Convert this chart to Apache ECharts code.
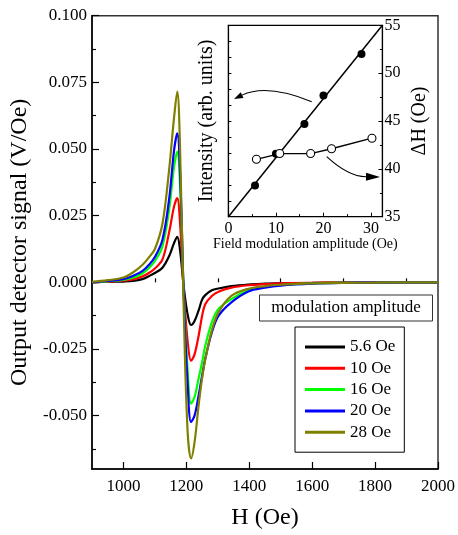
<!DOCTYPE html>
<html>
<head>
<meta charset="utf-8">
<script src="https://cdn.jsdelivr.net/npm/echarts@6/dist/echarts.min.js"></script>
<style>
  html, body { margin: 0; padding: 0; background: #fff; }
  #chart { width: 458px; height: 535px; }
</style>
</head>
<body>
<div id="chart"></div>
<script>
// FMR derivative signal vs applied field, for several modulation amplitudes
const fieldH = [900, 950, 1000, 1030, 1060, 1082, 1100, 1124, 1145, 1161, 1171, 1180, 1192, 1204, 1215, 1226, 1239, 1250, 1260, 1281, 1302, 1343, 1397, 1450, 1500, 1600, 1700, 1800, 1900, 2000];
const sig5_6 = [0.0000, 0.0002, 0.0003, 0.0005, 0.0012, 0.0024, 0.0035, 0.0055, 0.0098, 0.0148, 0.0171, 0.0120, -0.0020, -0.0120, -0.0160, -0.0145, -0.0105, -0.0065, -0.0048, -0.0030, -0.0023, -0.0014, -0.0008, -0.0005, -0.0003, -0.0002, -0.0001, -0.0001, 0.0000, 0.0000];
const sig10 = [0.0000, 0.0003, 0.0006, 0.0011, 0.0022, 0.0036, 0.0052, 0.0086, 0.0187, 0.0285, 0.0316, 0.0220, -0.0040, -0.0220, -0.0294, -0.0270, -0.0200, -0.0126, -0.0082, -0.0051, -0.0035, -0.0020, -0.0011, -0.0007, -0.0004, -0.0002, -0.0001, -0.0001, 0.0000, 0.0000];
const sig16 = [0.0000, 0.0004, 0.0009, 0.0017, 0.0033, 0.0055, 0.0080, 0.0135, 0.0272, 0.0434, 0.0490, 0.0360, -0.0050, -0.0330, -0.0455, -0.0430, -0.0360, -0.0300, -0.0238, -0.0150, -0.0100, -0.0063, -0.0030, -0.0017, -0.0010, -0.0004, -0.0002, -0.0001, 0.0000, 0.0000];
const sig20 = [0.0000, 0.0005, 0.0012, 0.0024, 0.0042, 0.0067, 0.0095, 0.0160, 0.0310, 0.0496, 0.0559, 0.0410, -0.0060, -0.0380, -0.0524, -0.0500, -0.0424, -0.0350, -0.0287, -0.0188, -0.0126, -0.0075, -0.0034, -0.0020, -0.0012, -0.0005, -0.0002, -0.0001, 0.0000, 0.0000];
const sig28 = [0.0002, 0.0008, 0.0018, 0.0037, 0.0065, 0.0095, 0.0125, 0.0220, 0.0420, 0.0620, 0.0715, 0.0500, -0.0120, -0.0560, -0.0660, -0.0600, -0.0460, -0.0360, -0.0290, -0.0180, -0.0113, -0.0051, -0.0024, -0.0014, -0.0009, -0.0004, -0.0002, -0.0001, 0.0000, 0.0000];
const seriesNames = ['5.6 Oe', '10 Oe', '16 Oe', '20 Oe', '28 Oe'];
const seriesColors = ['#000000', '#ff0000', '#00ff00', '#0000ff', '#808000'];

// main axis ticks
const xMajorTicks = [1000, 1200, 1400, 1600, 1800, 2000];
const xMinorTicks = [1100, 1300, 1500, 1700, 1900];
const yMajorTicks = [-0.05, -0.025, 0, 0.025, 0.05, 0.075, 0.1];
const yMinorTicks = [-0.0625, -0.0375, -0.0125, 0.0125, 0.0375, 0.0625, 0.0875];

// inset: intensity and linewidth vs field modulation amplitude
const modAmp = [5.6, 10, 16, 20, 28];
const intensity = [1.95, 3.94, 5.81, 7.60, 10.2];
const widthAmp = [5.9, 10.8, 17.3, 21.7, 30.2];
const deltaH = [41.0, 41.6, 41.6, 42.1, 43.2];
const fitAmp = [0, 32.4];
const fitIntensity = [0, 12];

const FONT = "'Liberation Serif', 'Times New Roman', serif";
const zip = (a, b) => a.map((v, i) => [v, b[i]]);
const signals = [sig5_6, sig10, sig16, sig20, sig28];

const chart = echarts.init(document.getElementById('chart'), null, { renderer: 'canvas' });

const mainSeries = signals.map((vals, i) => ({
  name: seriesNames[i],
  type: 'line',
  xAxisIndex: 0,
  yAxisIndex: 0,
  data: zip(fieldH, vals),
  showSymbol: false,
  smooth: 0.35,
  color: seriesColors[i],
  itemStyle: { color: seriesColors[i] },
  lineStyle: { color: seriesColors[i], width: 2.2 },
  z: 2 + i
}));

// quadratic-bezier arrow with a filled head at the end point
function arrow(sx, sy, cx, cy, ex, ey, headLen, headHalf) {
  const dx = ex - cx, dy = ey - cy;
  const L = Math.hypot(dx, dy);
  const ux = dx / L, uy = dy / L;
  const bx = ex - ux * headLen, by = ey - uy * headLen;
  return [
    { type: 'bezierCurve', shape: { x1: sx, y1: sy, cpx1: cx, cpy1: cy, x2: bx, y2: by },
      style: { stroke: '#000', lineWidth: 1.1, fill: null } },
    { type: 'polygon', shape: { points: [[ex, ey], [bx - uy * headHalf, by + ux * headHalf], [bx + uy * headHalf, by - ux * headHalf]] },
      style: { fill: '#000' } }
  ];
}

const option = {
  animation: false,
  backgroundColor: '#fff',
  textStyle: { fontFamily: FONT },
  grid: [
    { left: 92, top: 15.7, right: 15.7, bottom: 64.3, show: true, borderColor: '#333', borderWidth: 1.5, backgroundColor: 'transparent' },
    { left: 228.4, top: 25.3, width: 154, height: 191.4, show: true, borderColor: '#000', borderWidth: 1.2, backgroundColor: 'transparent' }
  ],
  xAxis: [
    {
      gridIndex: 0, type: 'value', min: 900, max: 2000, position: 'bottom',
      name: 'H (Oe)', nameLocation: 'middle', nameGap: 37,
      nameTextStyle: { fontFamily: FONT, fontSize: 24, color: '#000' },
      axisLine: { show: true, onZero: false, lineStyle: { color: '#000', width: 1.5 } },
      axisTick: { show: true, inside: true, length: 7, customValues: xMajorTicks, lineStyle: { color: '#000', width: 1.2 } },
      axisLabel: { show: true, customValues: xMajorTicks, margin: 9, fontFamily: FONT, fontSize: 17, color: '#000',
                   formatter: v => String(v) },
      splitLine: { show: false }
    },
    {
      gridIndex: 0, type: 'value', min: 900, max: 2000, position: 'bottom',
      axisLine: { show: false },
      axisTick: { show: true, inside: true, length: 4, customValues: xMinorTicks, lineStyle: { color: '#000', width: 1.2 } },
      axisLabel: { show: false },
      splitLine: { show: false }
    },
    {
      gridIndex: 1, type: 'value', min: 0, max: 32.4, interval: 10, position: 'bottom',
      name: 'Field modulation amplitude (Oe)', nameLocation: 'middle', nameGap: 19,
      nameTextStyle: { fontFamily: FONT, fontSize: 14, color: '#000' },
      axisLine: { show: true, onZero: false, lineStyle: { color: '#000', width: 1.2 } },
      axisTick: { show: true, inside: true, length: 4, lineStyle: { color: '#000' } },
      minorTick: { show: true, splitNumber: 2, length: 2.5, lineStyle: { color: '#000' } },
      axisLabel: { show: true, showMaxLabel: false, margin: 4, fontFamily: FONT, fontSize: 16, color: '#000' },
      splitLine: { show: false }
    }
  ],
  yAxis: [
    {
      gridIndex: 0, type: 'value', min: -0.07, max: 0.1, position: 'left',
      name: 'Output detector signal (V/Oe)', nameLocation: 'middle', nameGap: 60,
      nameTextStyle: { fontFamily: FONT, fontSize: 24, color: '#000' },
      axisLine: { show: true, onZero: false, lineStyle: { color: '#000', width: 1.5 } },
      axisTick: { show: true, inside: true, length: 7, customValues: yMajorTicks, lineStyle: { color: '#000', width: 1.2 } },
      axisLabel: { show: true, customValues: yMajorTicks, margin: 5, fontFamily: FONT, fontSize: 17, color: '#000',
                   formatter: v => v.toFixed(3) },
      splitLine: { show: false }
    },
    {
      gridIndex: 0, type: 'value', min: -0.07, max: 0.1, position: 'left',
      axisLine: { show: false },
      axisTick: { show: true, inside: true, length: 4, customValues: yMinorTicks, lineStyle: { color: '#000', width: 1.2 } },
      axisLabel: { show: false },
      splitLine: { show: false }
    },
    {
      gridIndex: 1, type: 'value', min: 0, max: 12, interval: 1, position: 'left',
      name: 'Intensity (arb. units)', nameLocation: 'middle', nameGap: 12,
      nameTextStyle: { fontFamily: FONT, fontSize: 20, color: '#000' },
      axisLine: { show: true, onZero: false, lineStyle: { color: '#000', width: 1.2 } },
      axisTick: { show: true, inside: true, length: 3, lineStyle: { color: '#000' } },
      axisLabel: { show: false },
      splitLine: { show: false }
    },
    {
      gridIndex: 1, type: 'value', min: 35, max: 55, interval: 5, position: 'right',
      name: 'ΔH (Oe)', nameLocation: 'middle', nameGap: 27,
      nameTextStyle: { fontFamily: FONT, fontSize: 20, color: '#000' },
      axisLine: { show: true, onZero: false, lineStyle: { color: '#000', width: 1.2 } },
      axisTick: { show: true, inside: true, length: 4, lineStyle: { color: '#000' } },
      minorTick: { show: true, splitNumber: 2, length: 2.5, lineStyle: { color: '#000' } },
      axisLabel: { show: true, margin: 2, fontFamily: FONT, fontSize: 16, color: '#000' },
      splitLine: { show: false }
    }
  ],
  legend: {
    data: seriesNames,
    orient: 'vertical',
    left: 295, top: 327,
    padding: [11.5, 9, 11.5, 10],
    itemWidth: 40, itemHeight: 3, itemGap: 4.3,
    icon: 'rect',
    borderColor: '#000', borderWidth: 1,
    backgroundColor: '#fff',
    textStyle: { fontFamily: FONT, fontSize: 17, lineHeight: 17, color: '#000' },
    selectedMode: false
  },
  series: mainSeries.concat([
    {
      name: 'fit', type: 'line', xAxisIndex: 2, yAxisIndex: 2,
      data: zip(fitAmp, fitIntensity), showSymbol: false,
      lineStyle: { color: '#000', width: 1.5 }, z: 3
    },
    {
      name: 'intensity', type: 'scatter', xAxisIndex: 2, yAxisIndex: 2,
      data: zip(modAmp, intensity), symbol: 'circle', symbolSize: 8,
      itemStyle: { color: '#000', opacity: 1 }, z: 4
    },
    {
      name: 'linewidth', type: 'line', xAxisIndex: 2, yAxisIndex: 3,
      data: zip(widthAmp, deltaH), symbol: 'circle', symbolSize: 8, showSymbol: true,
      lineStyle: { color: '#000', width: 1.3 },
      itemStyle: { color: '#fff', borderColor: '#000', borderWidth: 1.1 }, z: 5
    }
  ]),
  graphic: [
    {
      type: 'rect', shape: { x: 259.5, y: 295, width: 173, height: 26 },
      style: { fill: '#fff', stroke: '#333', lineWidth: 1 }, z: 10
    },
    {
      type: 'text', x: 346, y: 308,
      style: { text: 'modulation amplitude', fontFamily: FONT, fontSize: 17, fill: '#000', align: 'center', verticalAlign: 'middle' },
      z: 11
    },
    ...arrow(311.7, 101.7, 266.7, 83.4, 234, 99, 9, 3.2),
    ...arrow(326.7, 156.7, 348.3, 176.6, 380, 177, 14, 4)
  ]
};

chart.setOption(option);
</script>
</body>
</html>
